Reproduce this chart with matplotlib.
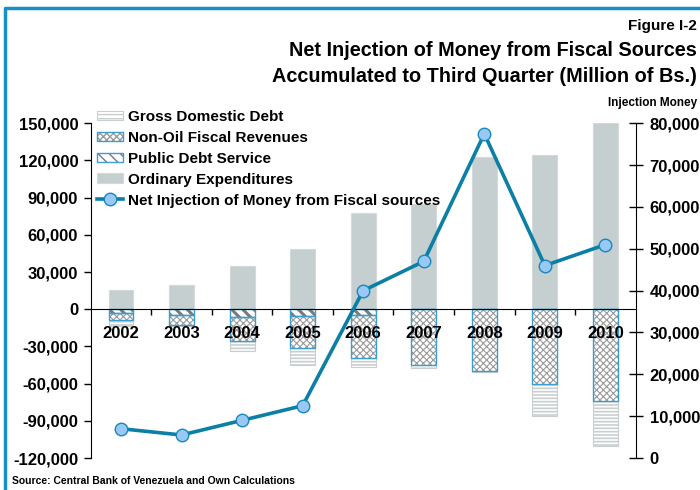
import matplotlib
matplotlib.use("Agg")
import matplotlib.pyplot as plt
import numpy as np
from matplotlib.patches import Patch
from matplotlib.lines import Line2D
from matplotlib.ticker import FuncFormatter, FixedLocator

# ---- data (million Bs., accumulated to Q3) ----
years = ["2002", "2003", "2004", "2005", "2006", "2007", "2008", "2009", "2010"]
ordinary_expenditures = [15500, 19500, 35000, 49000, 77500, 84500, 122500, 124500, 150000]
public_debt_service = [3000, 5000, 6500, 5500, 4500, 0, 0, 0, 0]
non_oil_revenues = [6000, 8000, 19500, 26000, 35000, 45000, 49500, 60000, 74000]
gross_domestic_debt = [4500, 500, 7500, 13500, 7000, 2500, 1500, 26000, 36500]
net_injection = [7000, 5500, 9000, 12500, 40000, 47000, 77500, 46000, 51000]

left_ticks = [-120000, -90000, -60000, -30000, 0, 30000, 60000, 90000, 120000, 150000]
right_ticks = [0, 10000, 20000, 30000, 40000, 50000, 60000, 70000, 80000]

plt.rcParams["font.family"] = ["Liberation Sans", "DejaVu Sans"]
plt.rcParams["font.weight"] = "bold"

W, H = 700, 490
fig = plt.figure(figsize=(W / 100, H / 100), dpi=100)
x0, x1, ytop, ybot = 90.7, 635.7, 123.3, 458.0
ax = fig.add_axes([x0 / W, 1 - ybot / H, (x1 - x0) / W, (ybot - ytop) / H])

x = np.arange(len(years))
bw = 0.41
pds = np.array(public_debt_service)
nof = np.array(non_oil_revenues)
gdd = np.array(gross_domestic_debt)

GRAY_BAR = "#c5cfcf"
BLUE_EDGE = "#3a9fd0"
LINE = "#0b7fa6"
MARKER = "#98c9f5"
TEXTURE = "#9a9a9a"

# ordinary expenditures (positive)
ax.bar(x, ordinary_expenditures, bw, color=GRAY_BAR, edgecolor="#d4dada", lw=0.8, zorder=1)

# gross domestic debt: horizontal lines
with plt.rc_context({"hatch.linewidth": 1.2}):
    ax.bar(x, -gdd, bw, bottom=-(pds + nof), facecolor="white", edgecolor="#c9cece",
           hatch="-----", lw=0.8, zorder=1)
# non-oil fiscal revenues: dense texture
with plt.rc_context({"hatch.linewidth": 0.8}):
    ax.bar(x, -nof, bw, bottom=-pds, facecolor="white", edgecolor=TEXTURE,
           hatch="xxxxx", lw=0, zorder=1)
# public debt service: thick diagonal stripes
with plt.rc_context({"hatch.linewidth": 2.2}):
    ax.bar(x, -pds, bw, bottom=0, facecolor="white", edgecolor="#7a7a7a",
           hatch="\\\\\\", lw=0, zorder=1)
# blue outlines
ax.bar(x, -nof, bw, bottom=-pds, fill=False, edgecolor=BLUE_EDGE, lw=1.0, zorder=1.1)
ax.bar(x, -pds, bw, bottom=0, fill=False, edgecolor=BLUE_EDGE, lw=1.0, zorder=1.1)

ax.set_xlim(-0.5, len(years) - 0.5)
ax.set_ylim(left_ticks[0], left_ticks[-1])
ax.yaxis.set_major_locator(FixedLocator(left_ticks))
ax.yaxis.set_major_formatter(FuncFormatter(lambda v, p: f"{int(v):,}"))
ax.tick_params(axis="y", direction="out", length=5, width=1, pad=4, labelsize=12)

ax.spines["bottom"].set_position(("data", 0))
ax.spines["top"].set_visible(False)
ax.spines["right"].set_visible(False)
ax.set_xticks(x, years)
ax.set_xticks(x[:-1] + 0.5, minor=True)
ax.tick_params(axis="x", which="major", length=0, pad=12, labelsize=12)
ax.tick_params(axis="x", which="minor", direction="out", length=4, width=1)

# right axis: net injection
ax2 = ax.twinx()
ax2.set_ylim(right_ticks[0], right_ticks[-1])
ax2.yaxis.set_major_locator(FixedLocator(right_ticks))
ax2.yaxis.set_major_formatter(FuncFormatter(lambda v, p: f"{int(v):,}"))
ax2.tick_params(axis="y", direction="inout", length=10, width=1, pad=5, labelsize=12)
for s in ("left", "top", "bottom"):
    ax2.spines[s].set_visible(False)
ax2.plot(x, net_injection, color=LINE, lw=2.6, marker="o", ms=9, mfc=MARKER,
         mec="#1a87bb", mew=1, zorder=3, clip_on=False)

# legend
h_gdd = Patch(facecolor="white", edgecolor="#c9cece", hatch="----", lw=0.8)
with plt.rc_context({"hatch.linewidth": 0.8}):
    h_nof_fill = Patch(facecolor="white", edgecolor=TEXTURE, hatch="xxxxx", lw=0)
with plt.rc_context({"hatch.linewidth": 2.2}):
    h_pds_fill = Patch(facecolor="white", edgecolor="#7a7a7a", hatch="\\\\\\", lw=0)
h_blue = Patch(fill=False, edgecolor=BLUE_EDGE, lw=1.0)
h_ord = Patch(facecolor=GRAY_BAR, edgecolor="#d4dada", lw=0.8)
h_line = Line2D([], [], color=LINE, lw=2.6, marker="o", ms=9, mfc=MARKER, mec="#1a87bb", mew=1)
fig.legend([h_gdd, (h_nof_fill, h_blue), (h_pds_fill, h_blue), h_ord, h_line],
           ["Gross Domestic Debt", "Non-Oil Fiscal Revenues", "Public Debt Service",
            "Ordinary Expenditures", "Net Injection of Money from Fiscal sources"],
           loc="upper left", bbox_to_anchor=(97 / W, 1 - 110 / H), frameon=False,
           borderpad=0, borderaxespad=0, fontsize=11, labelspacing=0.45,
           handlelength=1.7, handleheight=0.6, handletextpad=0.3)

# titles and notes
fig.text(697 / W, 1 - 26 / H, "Figure I-2", ha="right", va="center", fontsize=11, weight="bold")
fig.text(697 / W, 1 - 51 / H, "Net Injection of Money from Fiscal Sources", ha="right",
         va="center", fontsize=14.3, weight="bold")
fig.text(697 / W, 1 - 76 / H, "Accumulated to Third Quarter (Million of Bs.)", ha="right",
         va="center", fontsize=14.3, weight="bold")
fig.text(697 / W, 1 - 103 / H, "Injection Money", ha="right", va="center", fontsize=8.5,
         weight="bold")
fig.text(12 / W, 1 - 481 / H, "Source: Central Bank of Venezuela and Own Calculations",
         ha="left", va="center", fontsize=7.5, weight="bold")

# page frame
fig.add_artist(Line2D([5 / W, 5 / W, 1.0], [0.0, 1 - 8 / H, 1 - 8 / H],
                      transform=fig.transFigure, color="#1790c8", lw=2.5))

fig.savefig("out.png", dpi=100)
